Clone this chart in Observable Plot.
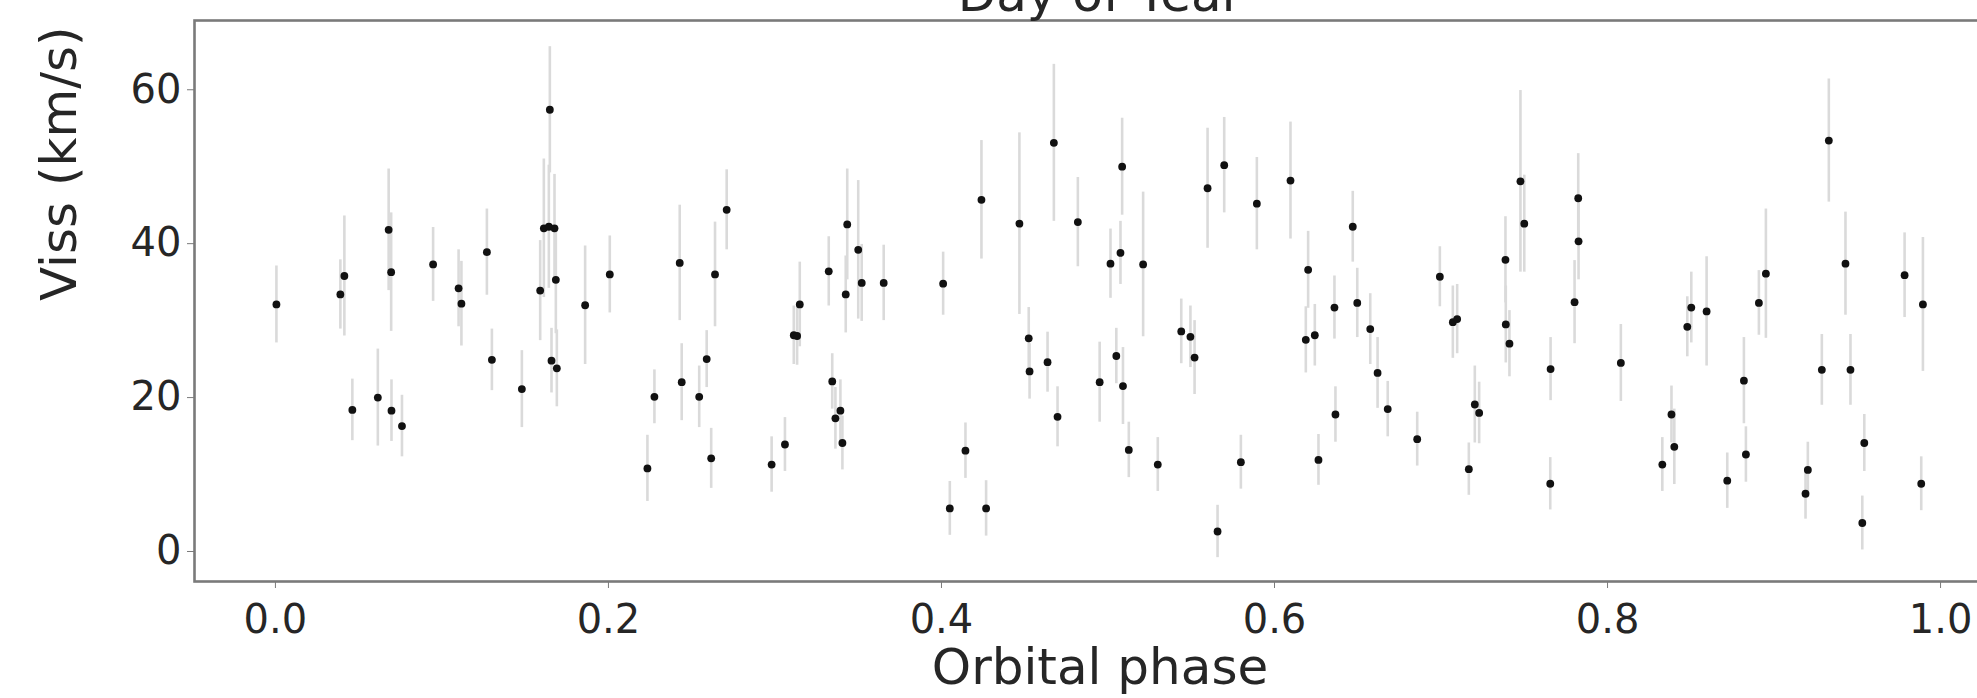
<!DOCTYPE html>
<html>
<head>
<meta charset="utf-8">
<script src="https://cdn.jsdelivr.net/npm/d3@7"></script>
<script src="https://cdn.jsdelivr.net/npm/@observablehq/plot@0.6"></script>
<style>
  html, body { margin: 0; padding: 0; background: #fff; overflow: hidden; }
  #chart { width: 2006px; height: 698px; overflow: hidden; }
  #chart svg { max-width: none !important; display: block; }
</style>
</head>
<body>
<div id="chart"></div>
<script>
// Orbital phase of each measurement
const phase = [
  0.0006, 0.039, 0.0414, 0.0462, 0.0615, 0.068, 0.0695, 0.0697, 0.076, 0.0947,
  0.110, 0.1117, 0.127, 0.130, 0.148, 0.159, 0.1612, 0.1642, 0.1648, 0.1658,
  0.1676, 0.1684, 0.169, 0.186, 0.2008, 0.2234, 0.2276, 0.2428, 0.244, 0.2545,
  0.259, 0.2617, 0.264, 0.271, 0.298, 0.306, 0.3113, 0.3133, 0.3149, 0.3323,
  0.3344, 0.3363, 0.3393, 0.3405, 0.3425, 0.3434, 0.350, 0.3521, 0.3653, 0.401,
  0.405, 0.4144, 0.424, 0.4268, 0.4468, 0.4524, 0.4529, 0.4637, 0.4675, 0.4697,
  0.4819, 0.495, 0.5015, 0.505, 0.5075, 0.5085, 0.509, 0.5125, 0.5211, 0.5299,
  0.544, 0.5495, 0.552, 0.5598, 0.5658, 0.5698, 0.5798, 0.5894, 0.6096, 0.6188,
  0.6202, 0.6242, 0.6264, 0.636, 0.6366, 0.647, 0.6497, 0.6575, 0.6619, 0.668,
  0.6857, 0.6993, 0.7071, 0.7097, 0.7167, 0.7203, 0.7229, 0.7387, 0.7389, 0.7411,
  0.7477, 0.750, 0.7656, 0.7658, 0.7802, 0.7824, 0.7826, 0.808, 0.8329, 0.8384,
  0.8401, 0.8479, 0.8503, 0.8595, 0.8719, 0.8819, 0.8831, 0.8909, 0.8951, 0.9189,
  0.9203, 0.9287, 0.9329, 0.9429, 0.9459, 0.953, 0.9542, 0.9784, 0.9884, 0.9894
];
// Viss (km/s)
const viss = [
  32.1, 33.4, 35.8, 18.4, 20.0, 41.8, 36.3, 18.3, 16.3, 37.3,
  34.2, 32.2, 38.9, 24.9, 21.1, 33.9, 42.0, 42.2, 57.4, 24.8,
  42.0, 35.3, 23.8, 32.0, 36.0, 10.8, 20.1, 37.5, 22.0, 20.1,
  25.0, 12.1, 36.0, 44.4, 11.3, 13.9, 28.1, 28.0, 32.1, 36.4,
  22.1, 17.3, 18.3, 14.1, 33.4, 42.5, 39.2, 34.9, 34.9, 34.8,
  5.6, 13.1, 45.7, 5.6, 42.6, 27.7, 23.4, 24.6, 53.1, 17.5,
  42.8, 22.0, 37.4, 25.4, 38.8, 50.0, 21.5, 13.2, 37.3, 11.3,
  28.6, 27.9, 25.2, 47.2, 2.6, 50.2, 11.6, 45.2, 48.2, 27.5,
  36.6, 28.1, 11.9, 31.7, 17.8, 42.2, 32.3, 28.9, 23.2, 18.5,
  14.6, 35.7, 29.8, 30.2, 10.7, 19.1, 18.0, 37.9, 29.5, 27.0,
  48.1, 42.6, 8.8, 23.7, 32.4, 45.9, 40.3, 24.5, 11.3, 17.8,
  13.6, 29.2, 31.7, 31.2, 9.2, 22.2, 12.6, 32.3, 36.1, 7.5,
  10.6, 23.6, 53.4, 37.4, 23.6, 3.7, 14.1, 35.9, 8.8, 32.1
];
// 1-sigma uncertainty (km/s)
const vissErr = [
  5.0, 4.5, 7.8, 4.0, 6.3, 7.9, 7.7, 4.0, 4.0, 4.8,
  5.0, 5.5, 5.6, 4.0, 5.0, 6.5, 9.0, 8.0, 8.2, 4.2,
  7.0, 7.0, 5.0, 7.7, 5.0, 4.3, 3.5, 7.5, 5.0, 4.0,
  3.7, 3.9, 6.8, 5.2, 3.6, 3.5, 3.8, 3.8, 5.5, 4.5,
  3.6, 4.0, 4.0, 3.5, 5.0, 7.2, 9.0, 5.0, 4.9, 4.1,
  3.5, 3.6, 7.7, 3.6, 11.8, 4.0, 3.6, 3.9, 10.2, 3.9,
  5.8, 5.2, 4.5, 3.6, 4.1, 6.3, 5.0, 3.6, 9.4, 3.5,
  4.2, 4.0, 4.8, 7.8, 3.4, 6.2, 3.5, 6.0, 7.6, 4.3,
  5.0, 4.0, 3.3, 4.1, 3.6, 4.6, 4.5, 4.6, 4.6, 3.6,
  3.5, 3.9, 4.7, 4.5, 3.4, 5.0, 4.0, 5.6, 5.0, 4.3,
  11.8, 6.3, 3.4, 4.1, 5.4, 5.8, 5.0, 5.0, 3.5, 3.7,
  4.9, 3.9, 4.6, 7.1, 3.6, 5.6, 3.6, 4.2, 8.4, 3.3,
  3.6, 4.6, 8.0, 6.7, 4.6, 3.5, 3.7, 5.5, 3.5, 8.7
];
const xTicks = [0.0, 0.2, 0.4, 0.6, 0.8, 1.0];
const yTicks = [0, 20, 40, 60];
const xLabel = "Orbital phase";
const yLabel = "Viss (km/s)";
const topLabel = "Day of Year";

const data = phase.map((p, i) => ({phase: p, v: viss[i], e: vissErr[i]}));

const font = "DejaVu Sans, sans-serif";
const axisColor = "#7a7a7a";
const textColor = "#262626";

const chart = Plot.plot({
  width: 2006,
  height: 698,
  marginLeft: 194,
  marginRight: 1,
  marginTop: 20,
  marginBottom: 117,
  style: {fontFamily: font, background: "#fff", maxWidth: "none"},
  x: {domain: [-0.0486, 1.039]},
  y: {domain: [-3.9, 69]},
  marks: [
    Plot.ruleX(data, {x: "phase", y1: d => d.v - d.e, y2: d => d.v + d.e, stroke: "#dadada", strokeWidth: 2.6}),
    Plot.dot(data, {x: "phase", y: "v", r: 3.9, fill: "#111", stroke: "none"}),
    Plot.frame({stroke: axisColor, strokeWidth: 2.6}),
    Plot.axisX(xTicks, {
      tickFormat: d3.format(".1f"), tickSize: 7, tickPadding: 16,
      stroke: axisColor, fill: textColor, fontSize: 40, label: null
    }),
    Plot.axisY(yTicks, {
      tickSize: 7, tickPadding: 6,
      stroke: axisColor, fill: textColor, fontSize: 40, label: null
    }),
    Plot.text([xLabel], {frameAnchor: "bottom", lineAnchor: "middle", dy: 86, fontSize: 50, fill: textColor, fontFamily: font}),
    Plot.text([yLabel], {frameAnchor: "left", lineAnchor: "middle", rotate: -90, dx: -135, fontSize: 50, fill: textColor, fontFamily: font}),
    Plot.text([topLabel], {frameAnchor: "top", lineAnchor: "middle", dy: -26, fontSize: 50, fill: textColor, fontFamily: font})
  ]
});
document.getElementById("chart").appendChild(chart);
</script>
</body>
</html>
